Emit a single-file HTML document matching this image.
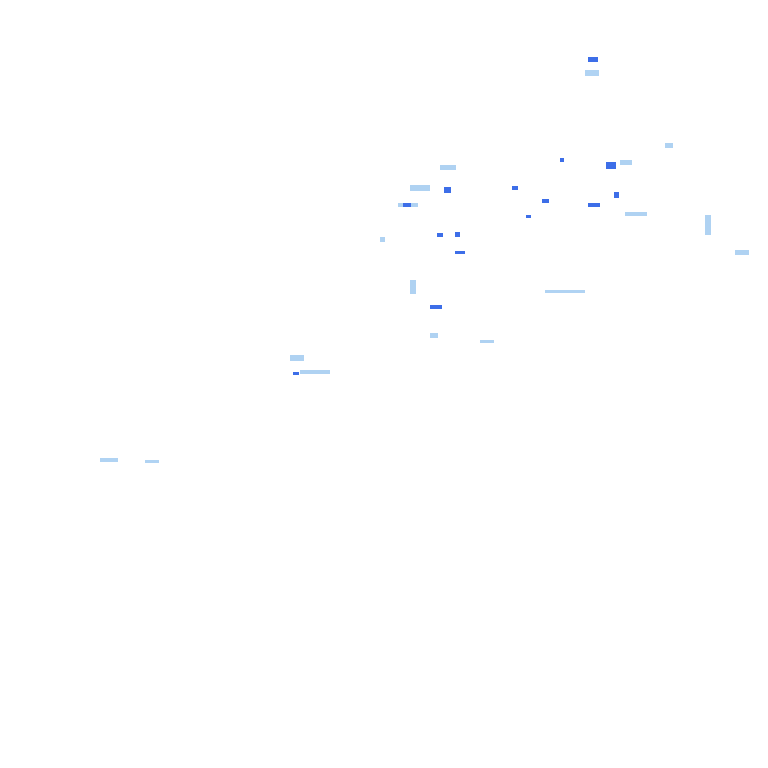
<!DOCTYPE html>
<html><head><style>html,body{margin:0;padding:0;background:#fff;width:768px;height:768px;overflow:hidden}</style></head>
<body>
<svg width="768" height="768" xmlns="http://www.w3.org/2000/svg">
<g fill="#9cc8f0" opacity="0.8">
<rect x="585" y="70" width="14" height="6"/><rect x="100" y="458" width="18" height="4"/><rect x="145" y="460" width="14" height="3"/>
<rect x="290" y="355" width="14" height="6"/><rect x="300" y="370" width="30" height="4"/><rect x="410" y="185" width="20" height="6"/>
<rect x="398" y="203" width="20" height="4"/><rect x="440" y="165" width="16" height="5"/><rect x="410" y="280" width="6" height="14"/>
<rect x="545" y="290" width="40" height="3"/><rect x="620" y="160" width="12" height="5"/><rect x="625" y="212" width="22" height="4"/>
<rect x="705" y="215" width="6" height="20"/><rect x="735" y="250" width="14" height="5"/><rect x="665" y="143" width="8" height="5"/>
<rect x="480" y="340" width="14" height="3"/><rect x="430" y="333" width="8" height="5"/><rect x="380" y="237" width="5" height="5"/>
</g>
<g fill="#3d6ee8">
<rect x="588" y="57" width="10" height="5"/><rect x="606" y="162" width="10" height="7"/><rect x="444" y="187" width="7" height="6"/>
<rect x="455" y="251" width="10" height="3"/><rect x="437" y="233" width="6" height="4"/><rect x="455" y="232" width="5" height="5"/>
<rect x="512" y="186" width="6" height="4"/><rect x="542" y="199" width="7" height="4"/><rect x="588" y="203" width="12" height="4"/>
<rect x="430" y="305" width="12" height="4"/><rect x="293" y="372" width="6" height="3"/><rect x="614" y="192" width="5" height="6"/>
<rect x="560" y="158" width="4" height="4"/><rect x="526" y="215" width="5" height="3"/><rect x="403" y="203" width="8" height="4"/>
</g>
</svg>
</body></html>
